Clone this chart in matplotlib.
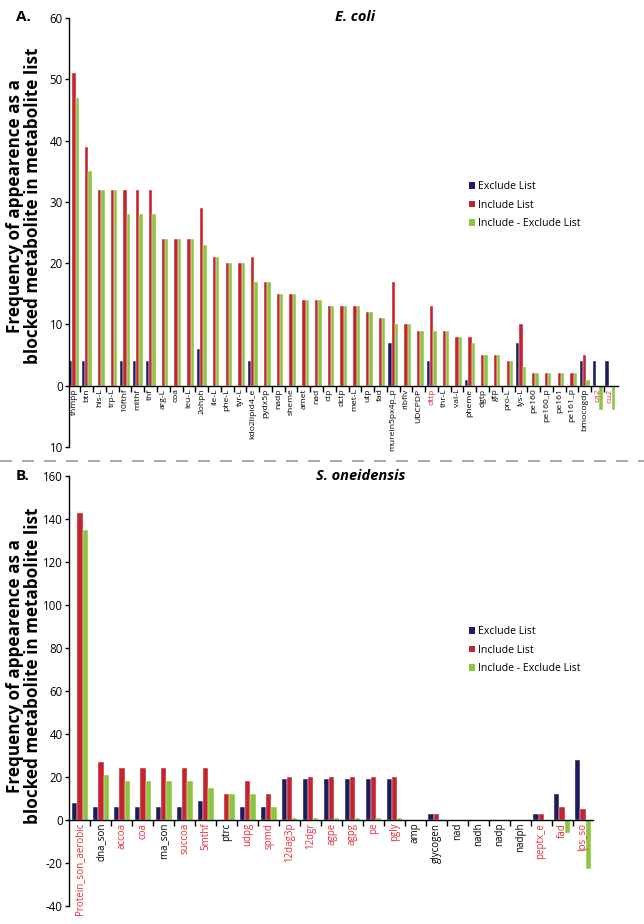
import matplotlib
matplotlib.use("Agg")
import matplotlib.pyplot as plt
from matplotlib.patches import Patch
from matplotlib.lines import Line2D
import numpy as np

plt.rcParams['font.family'] = ['Open Sans', 'DejaVu Sans']
plt.rcParams['axes.unicode_minus'] = False

# ---------------- Data: E. coli ----------------
ecoli_labels = ["thmpp", "btn", "his-L", "trp-L", "10fthf", "mlthf", "thf", "arg-L", "coa",
                "leu-L", "2ohph", "ile-L", "phe-L", "tyr-L", "kdo2lipid4_e", "pydx5p", "nadp",
                "sheme", "amet", "nad", "ctp", "dctp", "met-L", "utp", "fad", "murein5px4p_p",
                "ribflv", "UDCPDP", "dttp", "thr-L", "val-L", "pheme", "dgtp", "gtp", "pro-L",
                "lys-L", "pe160", "pe160_p", "pe161", "pe161_p", "bmocogdp", "ca2", "cu2"]
ecoli_red_labels = ["dttp", "ca2", "cu2"]
ecoli_exclude = [4, 4, 0, 0, 4, 4, 4, 0, 0, 0, 6, 0, 0, 0, 4, 0, 0, 0, 0, 0, 0, 0, 0, 0, 0, 7,
                 0, 0, 4, 0, 0, 1, 0, 0, 0, 7, 0, 0, 0, 0, 4, 4, 4]
ecoli_include = [51, 39, 32, 32, 32, 32, 32, 24, 24, 24, 29, 21, 20, 20, 21, 17, 15, 15, 14, 14,
                 13, 13, 13, 12, 11, 17, 10, 9, 13, 9, 8, 8, 5, 5, 4, 10, 2, 2, 2, 2, 5, 0, 0]
ecoli_diff = [47, 35, 32, 32, 28, 28, 28, 24, 24, 24, 23, 21, 20, 20, 17, 17, 15, 15, 14, 14,
              13, 13, 13, 12, 11, 10, 10, 9, 9, 9, 8, 7, 5, 5, 4, 3, 2, 2, 2, 2, 1, -4, -4]
ecoli_yticks = [-10, 0, 10, 20, 30, 40, 50, 60]
ecoli_yticklabels = ["10", "0", "10", "20", "30", "40", "50", "60"]

# ---------------- Data: S. oneidensis ----------------
son_labels = ["Protein_son_aerobic", "dna_son", "accoa", "coa", "rna_son", "succoa", "5mthf",
              "ptrc", "udpg", "spmd", "12dag3p", "12dgr", "agpe", "agpg", "pe", "pgly", "amp",
              "glycogen", "nad", "nadh", "nadp", "nadph", "peptx_e", "fad", "lps_so"]
son_black_labels = ["dna_son", "rna_son", "ptrc", "amp", "glycogen", "nad", "nadh", "nadp", "nadph"]
son_exclude = [8, 6, 6, 6, 6, 6, 9, 0, 6, 6, 19, 19, 19, 19, 19, 19, 0, 3, 0, 0, 0, 0, 3, 12, 28]
son_include = [143, 27, 24, 24, 24, 24, 24, 12, 18, 12, 20, 20, 20, 20, 20, 20, 0, 3, 0, 0, 0, 0, 3, 6, 5]
son_diff = [135, 21, 18, 18, 18, 18, 15, 12, 12, 6, 1, 1, 1, 1, 1, 1, 0, 0, 0, 0, 0, 0, 0, -6, -23]
son_yticks = [-40, -20, 0, 20, 40, 60, 80, 100, 120, 140, 160]

series_names = ["Exclude List", "Include List", "Include - Exclude List"]
colors = ["#1d1d5e", "#c6232d", "#8cc640"]
red_text = "#e0303a"

W, H = 644, 924
fig = plt.figure(figsize=(W / 100, H / 100), dpi=100)


def px_axes(left, top, right, bottom):
    return fig.add_axes([left / W, 1 - bottom / H, (right - left) / W, (bottom - top) / H])


def draw(ax, labels, series, bw, xlim, ylim, yticks, yticklabels, redset, label_fs, tick_fs):
    x = np.arange(len(labels))
    for k, (vals, c) in enumerate(zip(series, colors)):
        ax.bar(x + (k - 1) * bw, vals, width=bw, color=c, edgecolor='white', linewidth=0.3)
    ax.set_xlim(*xlim)
    ax.set_ylim(*ylim)
    for s in ['top', 'right']:
        ax.spines[s].set_visible(False)
    ax.spines['bottom'].set_position(('data', 0))
    ax.spines['bottom'].set_linewidth(1.0)
    ax.spines['left'].set_linewidth(1.0)
    ax.set_xticks(x)
    ax.set_xticklabels(labels, rotation=90, fontsize=label_fs, va='top', ha='center')
    ax.set_xticks(x[:-1] + 0.5, minor=True)
    ax.tick_params(axis='x', which='major', length=0, pad=2)
    ax.tick_params(axis='x', which='minor', length=4, width=1.0, direction='out')
    for t in ax.get_xticklabels():
        if t.get_text() in redset:
            t.set_color(red_text)
    ax.set_yticks(yticks)
    ax.set_yticklabels(yticklabels, fontsize=tick_fs)
    ax.tick_params(axis='y', length=3, width=1.0, direction='out', pad=1.5)


# Top panel
ax1 = px_axes(69, 18, 618, 447)
draw(ax1, ecoli_labels, [ecoli_exclude, ecoli_include, ecoli_diff], 0.26, (-0.39, 42.6),
     (-10, 60), ecoli_yticks, ecoli_yticklabels, set(ecoli_red_labels), 6.1, 8.3)

# Bottom panel
ax2 = px_axes(69, 476, 593, 906)
son_red = set(l for l in son_labels if l not in son_black_labels)
draw(ax2, son_labels, [son_exclude, son_include, son_diff], 0.25, (-0.525, 24.475),
     (-40, 160), son_yticks, [str(v) for v in son_yticks], son_red, 7.0, 8.3)

ylabel = "Frequency of appearence as a\nblocked metabolite in metabolite list"
fig.text(24 / W, 1 - 206 / H, ylabel, rotation=90, ha='center', va='center',
         fontsize=12.3, fontweight='bold', linespacing=0.95)
fig.text(24 / W, 1 - 666 / H, ylabel, rotation=90, ha='center', va='center',
         fontsize=12.3, fontweight='bold', linespacing=0.95)

fig.text(16 / W, 1 - 17 / H, "A.", fontsize=11, fontweight='bold', ha='left', va='center')
fig.text(16 / W, 1 - 476 / H, "B.", fontsize=11, fontweight='bold', ha='left', va='center')
fig.text(355 / W, 1 - 17 / H, "E. coli", fontsize=10.5, fontweight='bold', style='italic',
         ha='center', va='center')
fig.text(361 / W, 1 - 476 / H, "S. oneidensis", fontsize=10.5, fontweight='bold', style='italic',
         ha='center', va='center')

# dashed separator
fig.add_artist(Line2D([0, 1], [1 - 461 / H, 1 - 461 / H], transform=fig.transFigure,
                      color='#999999', linewidth=1.2, dashes=(7.2, 6)))

handles = [Patch(facecolor=c, edgecolor='none') for c in colors]
for ytop in (181, 626):
    fig.legend(handles, series_names, loc='upper left', bbox_to_anchor=(469 / W, 1 - ytop / H),
               frameon=False, fontsize=7.6, handlelength=0.6, handleheight=0.6,
               handletextpad=0.25, labelspacing=0.72, borderpad=0, borderaxespad=0)

fig.savefig("out.png", dpi=100)
